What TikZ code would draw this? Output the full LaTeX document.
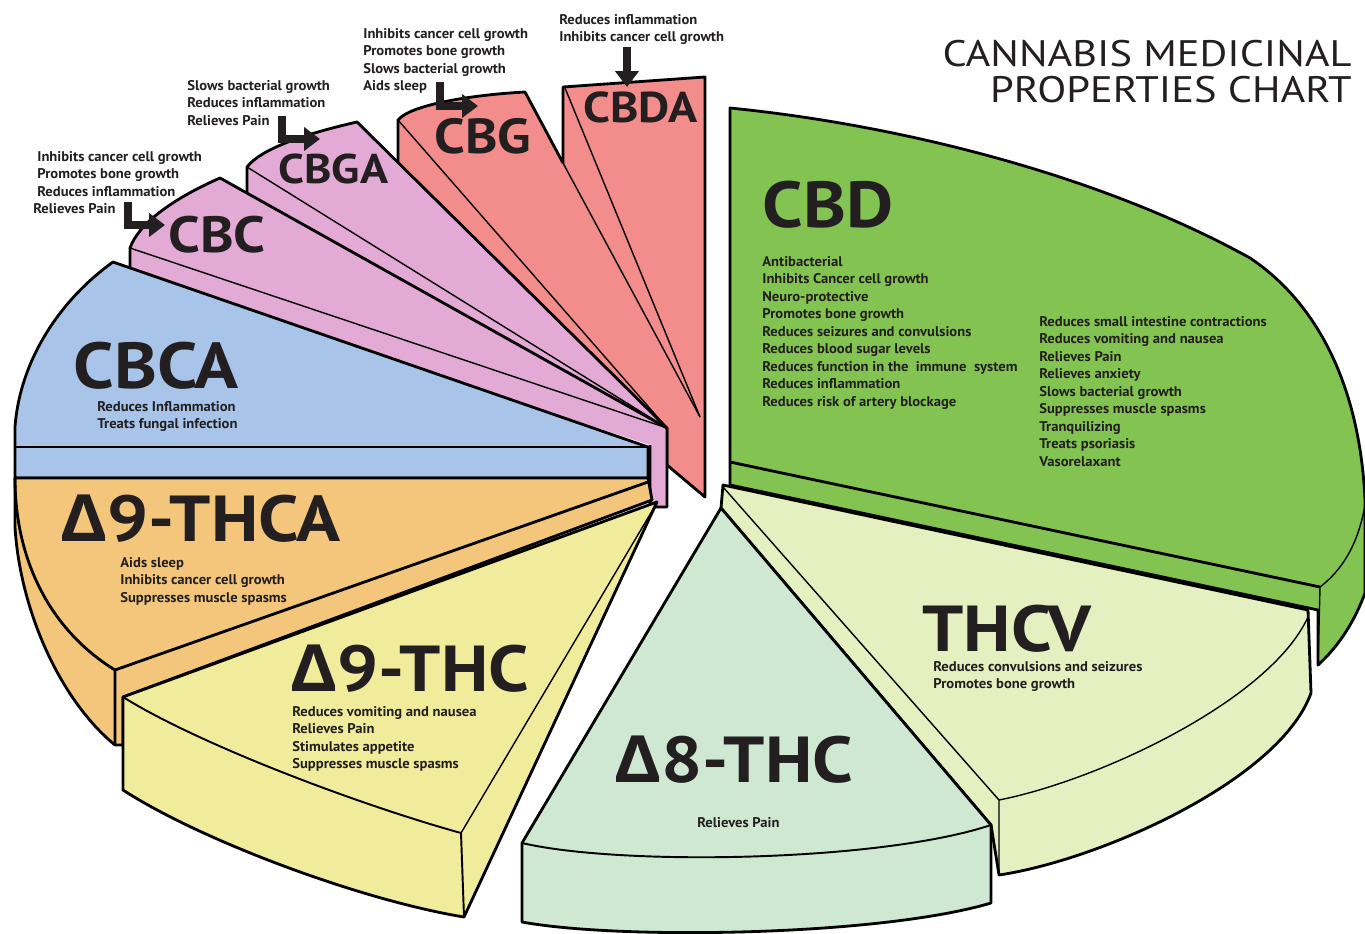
\documentclass[tikz,border=0pt]{standalone}
\usepackage{fontspec}
\setmainfont[FakeStretch=1.04]{PT Sans}
\newfontfamily\labelfont[FakeStretch=1.12]{PT Sans}
\newfontfamily\titlefont[FakeStretch=1.15]{PT Sans}
\newfontfamily\deltafont[FakeStretch=1.1]{Open Sans}
\usetikzlibrary{arrows.meta}

\definecolor{ink}{RGB}{35,31,32}
\definecolor{redpie}{RGB}{242,141,140}
\definecolor{pinkpie}{RGB}{226,170,213}
\definecolor{bluepie}{RGB}{168,196,232}
\definecolor{orangepie}{RGB}{243,198,124}
\definecolor{yellowpie}{RGB}{241,235,156}
\definecolor{mintpie}{RGB}{207,232,209}
\definecolor{limepie}{RGB}{229,240,192}
\definecolor{greenpie}{RGB}{131,195,82}

\newcommand\plist[1]{\begin{tabular}[t]{@{}l@{}}#1\end{tabular}}
\newcommand\dlt{{\deltafont\bfseries Δ}}

\begin{document}
\begin{tikzpicture}[x=0.02cm, y=-0.02cm, line join=round,
    slice/.style={draw=black, line width=1.6pt},
    crease/.style={draw=black, line width=0.8pt},
    biglabel/.style={anchor=base west, inner sep=0pt, text=ink, font=\labelfont\fontsize{37}{37}\selectfont\bfseries},
    sublabel/.style={anchor=base west, inner sep=0pt, text=ink, font=\labelfont\fontsize{#1}{#1}\selectfont\bfseries},
    props/.style={anchor=base west, inner sep=0pt, text=ink, font=\fontsize{8}{10}\selectfont\bfseries},
    pointer/.style={draw=ink, line width=5pt, line join=miter, -{Triangle[length=9pt, width=13pt]}}]
  \useasboundingbox (0,0) rectangle (1365,933);

  % back slices
  \filldraw[slice, fill=redpie] (563,87) -- (705,77) -- (705,497) -- (667,465) -- (667,400) -- (563,165) -- cycle;
  \draw[crease] (565,88) -- (700,417);
  \fill[redpie] (398,120) .. controls (410,105) and (470,95) .. (525,92) -- (700,417) -- (667,428) -- (398,172) -- cycle;
  \draw[slice] (398,172) -- (398,120) .. controls (410,105) and (470,95) .. (525,92) -- (563,163);
  \draw[crease] (563,163) -- (700,417);
  \draw[crease] (398,120) -- (667,428);
  \fill[pinkpie] (247,167) .. controls (260,150) and (300,135) .. (357,122) -- (667,428) -- (247,210) -- cycle;
  \draw[slice] (247,205) -- (247,167) .. controls (260,150) and (300,135) .. (357,122) -- (667,428);
  \draw[crease] (247,167) -- (667,428);
  \fill[pinkpie] (130,248) .. controls (138,225) and (170,200) .. (220,178) -- (667,428) -- (667,507) -- (650,507) -- (650,445) -- (130,275) -- cycle;
  \draw[slice] (130,275) -- (130,248) .. controls (138,225) and (170,200) .. (220,178) -- (667,428) -- (667,507) -- (650,507) -- (650,445);
  \draw[crease] (130,248) -- (667,428);

  % left slices
  \filldraw[slice, fill=bluepie] (113,262) .. controls (60,300) and (20,360) .. (15,427) -- (15,478) -- (648,478) -- (648,447) -- cycle;
  \draw[slice] (15,447) -- (648,447);
  \filldraw[slice, fill=orangepie] (15,478) -- (648,478) -- (652,500) -- (123,697) -- (123,745) -- (115,745) .. controls (60,700) and (20,610) .. (15,527) -- cycle;
  \draw[slice] (648,482) -- (115,670) -- (115,745);
  \draw[slice] (15,478) .. controls (15,560) and (50,630) .. (115,670);
  \filldraw[slice, fill=yellowpie] (123,697) -- (657,502) -- (464,917) .. controls (360,900) and (200,840) .. (123,790) -- cycle;
  \draw[crease] (655,506) -- (461,833);
  \draw[crease, line width=1.1pt] (123,697) .. controls (200,745) and (360,805) .. (461,833) -- (464,917);

  % right slices
  \filldraw[slice, fill=greenpie] (730,108) .. controls (900,125) and (1100,175) .. (1250,258) .. controls (1320,305) and (1360,390) .. (1365,500) -- (1365,593) .. controls (1355,620) and (1340,645) .. (1318,665) -- (1318,610) -- (730,485) -- cycle;
  \draw[slice] (730,462) -- (1320,587);
  \draw[crease] (1365,505) .. controls (1358,545) and (1342,570) .. (1320,587) -- (1318,665);
  \filldraw[slice, fill=limepie] (723,485) -- (1308,610) -- (1311,693) .. controls (1280,780) and (1100,860) .. (999,875) -- (991,825) -- (721,508) -- cycle;
  \draw[crease] (723,487) -- (999,800) -- (999,875);
  \draw[crease] (1308,617) .. controls (1270,700) and (1100,780) .. (999,800);
  \filldraw[slice, fill=mintpie] (721,508) -- (522,843) -- (522,922) .. controls (620,940) and (880,936) .. (991,903) -- (991,825) -- cycle;
  \draw[crease, line width=1.1pt] (522,843) .. controls (620,866) and (880,862) .. (991,825);

  \node[anchor=base east, inner sep=0pt, text=ink, font=\titlefont\fontsize{21}{19.3}\selectfont] (chartTitle) at (1352,66)
    {\begin{tabular}[t]{@{}r@{}}CANNABIS MEDICINAL\\PROPERTIES CHART\end{tabular}};

  \node[biglabel] (cbdName) at (762,227) {CBD};
  \node[props] (cbdLeft) at (762,266) {\plist{Antibacterial\\Inhibits Cancer cell growth\\Neuro-protective\\Promotes bone growth\\Reduces seizures and convulsions\\Reduces blood sugar levels\\Reduces function in the~ immune~ system\\Reduces inflammation\\Reduces risk of artery blockage}};
  \node[props] (cbdRight) at (1039,326) {\plist{Reduces small intestine contractions\\Reduces vomiting and nausea\\Relieves Pain\\Relieves anxiety\\Slows bacterial growth\\Suppresses muscle spasms\\Tranquilizing\\Treats psoriasis\\Vasorelaxant}};

  \node[biglabel] (thcvName) at (922,651) {THCV};
  \node[props] (thcvNotes) at (933,671) {\plist{Reduces convulsions and seizures\\Promotes bone growth}};

  \node[biglabel] (deltaEightName) at (614,782) {\dlt8-THC};
  \node[props] (deltaEightNotes) at (697,827) {Relieves Pain};

  \node[biglabel] (deltaNineName) at (290,691) {\dlt9-THC};
  \node[props] (deltaNineNotes) at (292,716) {\plist{Reduces vomiting and nausea\\Relieves Pain\\Stimulates appetite\\Suppresses muscle spasms}};

  \node[biglabel] (thcaName) at (60,541) {\dlt9-THCA};
  \node[props] (thcaNotes) at (120,567) {\plist{Aids sleep\\Inhibits cancer cell growth\\Suppresses muscle spasms}};

  \node[biglabel] (cbcaName) at (73,388) {CBCA};
  \node[props] (cbcaNotes) at (97,411) {\plist{Reduces Inflammation\\Treats fungal infection}};

  \node[sublabel=29] (cbcName) at (168,252) {CBC};
  \node[props] (cbcNotes) at (37,161) {\plist{Inhibits cancer cell growth\\Promotes bone growth\\Reduces inflammation\\\hspace*{-2.3pt}Relieves Pain}};
  \node[sublabel=23.6] (cbgaName) at (278,183) {CBGA};
  \node[props] (cbgaNotes) at (187,90) {\plist{Slows bacterial growth\\Reduces inflammation\\Relieves Pain}};
  \node[sublabel=28] (cbgName) at (434,153) {CBG};
  \node[props] (cbgNotes) at (363,38) {\plist{Inhibits cancer cell growth\\Promotes bone growth\\Slows bacterial growth\\Aids sleep}};
  \node[sublabel=24.5] (cbdaName) at (583,122) {CBDA};
  \node[props] (cbdaNotes) at (559,24) {\plist{Reduces inflammation\\Inhibits cancer cell growth}};

  \coordinate (cbcFrom) at (128,202);
  \coordinate (cbcTo) at (165,225);
  \coordinate (cbgaFrom) at (282,116);
  \coordinate (cbgaTo) at (320,139);
  \coordinate (cbgFrom) at (440,82);
  \coordinate (cbgTo) at (478,106);
  \coordinate (cbdaFrom) at (627,47);
  \coordinate (cbdaTo) at (627,87);
  \draw[pointer] (cbcFrom) |- (cbcTo);
  \draw[pointer] (cbgaFrom) |- (cbgaTo);
  \draw[pointer] (cbgFrom) |- (cbgTo);
  \draw[pointer] (cbdaFrom) -- (cbdaTo);
\end{tikzpicture}
\end{document}
